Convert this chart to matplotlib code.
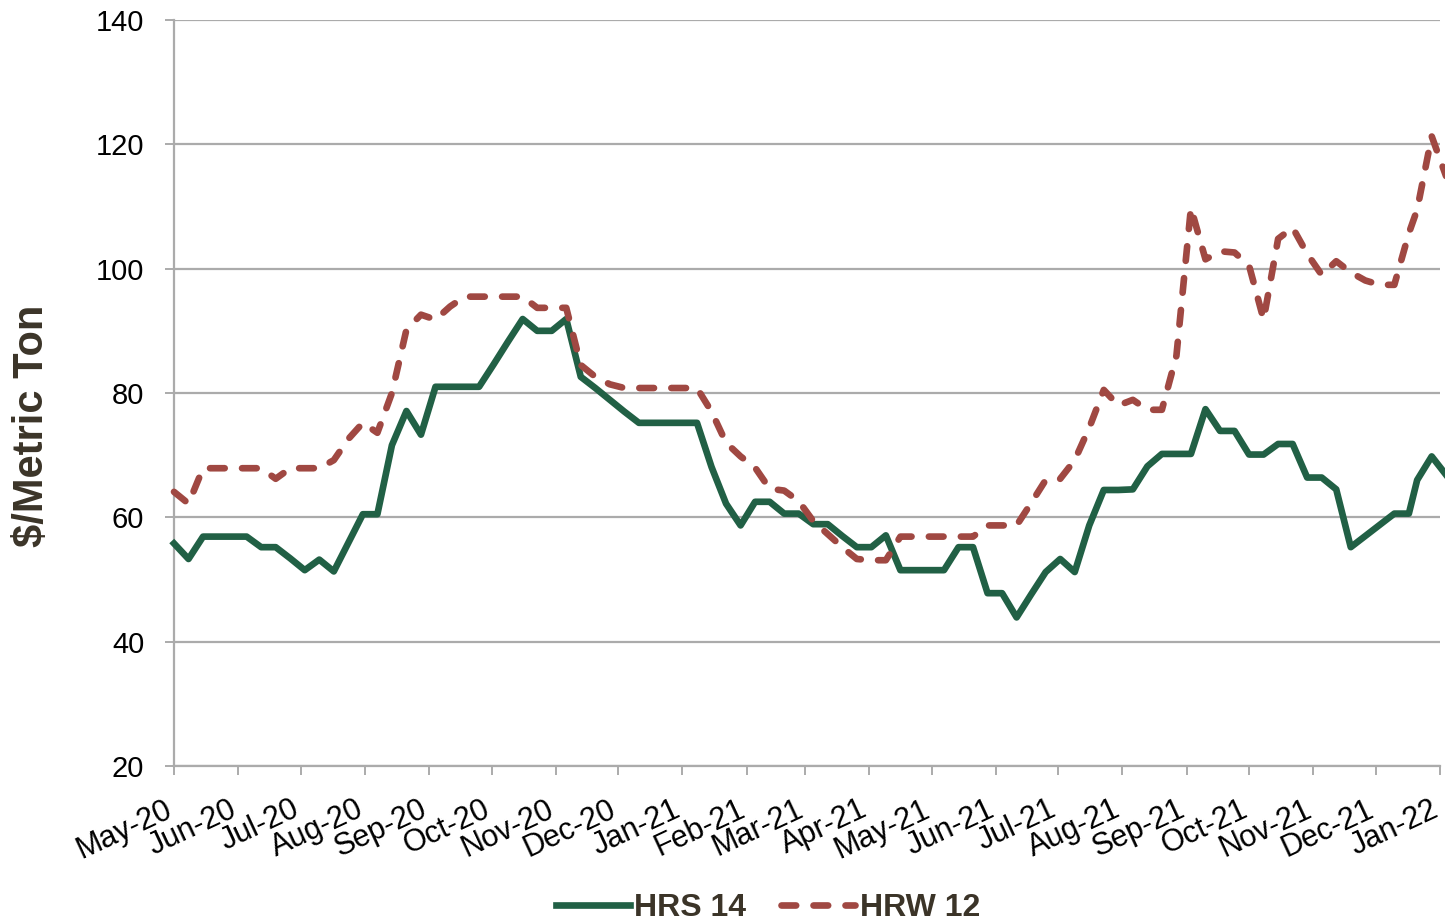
import pandas as pd
import matplotlib
matplotlib.use("Agg")
import matplotlib.pyplot as plt
import matplotlib.dates as mdates

# Weekly price spreads, $/metric ton
dates = pd.date_range("2020-05-01", periods=86, freq="7D").append(
    pd.to_datetime(["2021-12-21", "2021-12-28", "2022-01-04"]))

hrs14 = [55.8, 53.3, 56.9, 56.9, 56.9, 56.9, 55.2, 55.2, 53.4, 51.5,
         53.2, 51.3, 55.9, 60.5, 60.5, 71.6, 77.1, 73.3, 81.0, 81.0,
         81.0, 81.0, 84.6, 88.3, 91.9, 90.0, 90.0, 91.9, 82.6, 80.8,
         78.9, 77.0, 75.2, 75.2, 75.2, 75.2, 75.2, 68.1, 62.2, 58.7,
         62.5, 62.5, 60.6, 60.6, 58.9, 58.9, 57.0, 55.2, 55.2, 57.1,
         51.5, 51.5, 51.5, 51.5, 55.2, 55.2, 47.8, 47.8, 43.9, 47.6,
         51.2, 53.3, 51.2, 58.7, 64.4, 64.4, 64.5, 68.2, 70.2, 70.2,
         70.2, 77.4, 73.9, 73.9, 70.1, 70.1, 71.8, 71.8, 66.4, 66.4,
         64.5, 55.2, 57.0, 58.8, 60.6, 60.6, 66.0, 69.8, 66.8]

hrw12 = [64.1, 62.2, 67.9, 67.9, 67.9, 67.9, 67.9, 66.2, 67.9, 67.9,
         67.9, 69.2, 72.6, 75.2, 73.6, 80.0, 90.2, 92.6, 91.8, 93.9,
         95.5, 95.5, 95.5, 95.5, 95.5, 93.7, 93.7, 93.7, 84.5, 82.6,
         81.4, 80.8, 80.8, 80.8, 80.8, 80.8, 80.8, 77.0, 72.0, 69.8,
         68.0, 64.6, 64.3, 62.6, 59.4, 57.3, 55.2, 53.3, 53.1, 53.1,
         56.9, 56.9, 56.9, 56.9, 56.9, 56.9, 58.7, 58.7, 58.7, 62.3,
         66.0, 66.2, 69.2, 74.4, 80.5, 78.0, 78.9, 77.3, 77.3, 86.0,
         109.8, 101.5, 102.8, 102.6, 100.5, 91.8, 104.8, 106.6, 102.4, 99.0,
         101.2, 99.4, 98.1, 97.4, 97.4, 105.7, 109.5, 121.3, 114.8]

green = "#216045"
red = "#A04842"
grey = "#ABABAB"
text_dark = "#3B3428"

fig = plt.figure(figsize=(14.45, 9.23), dpi=100)
ax = fig.add_axes([174 / 1445, 1 - 766 / 923, (1440 - 174) / 1445, (766 - 20) / 923])

ax.plot(dates, hrs14, color=green, lw=4.8, clip_on=False, label="HRS 14", zorder=3)
ax.plot(dates, hrw12, color=red, lw=4.8, dashes=(2.2, 2.6), dash_capstyle="round",
        clip_on=False, label="HRW 12", zorder=3)

ax.set_ylim(20, 140)
ax.set_yticks(range(20, 141, 20))
ax.set_xlim(pd.Timestamp("2020-05-01"), pd.Timestamp("2022-01-01"))
ax.xaxis.set_major_locator(mdates.MonthLocator())
ax.xaxis.set_major_formatter(mdates.DateFormatter("%b-%y"))

ax.grid(axis="y", color=grey, lw=1.6)
ax.set_axisbelow(True)
for side in ["top", "right"]:
    ax.spines[side].set_visible(False)
for side in ["left", "bottom"]:
    ax.spines[side].set_color(grey)
    ax.spines[side].set_linewidth(1.6)

ax.tick_params(axis="both", direction="out", length=6.5, width=1.4, color=grey)
ax.tick_params(axis="y", pad=15, labelsize=21)
ax.tick_params(axis="x", pad=29, labelsize=22, labelrotation=25)
plt.setp(ax.get_yticklabels(), family=["Liberation Sans", "DejaVu Sans"])
plt.setp(ax.get_xticklabels(), family=["Liberation Sans", "DejaVu Sans"],
         ha="right", va="baseline", rotation_mode="anchor")

fig.text(32 / 1445, 1 - 426 / 923, "\\$/Metric Ton", rotation=90, ha="center", va="center",
         fontsize=30, fontweight="bold", family=["Liberation Sans", "DejaVu Sans"], color=text_dark)

leg = fig.legend(loc="center", bbox_to_anchor=(768 / 1445, 1 - 908 / 923), ncol=2, frameon=False,
                 prop={"family": "Liberation Sans", "weight": "bold", "size": 23},
                 handlelength=2.3, handletextpad=0.15, columnspacing=1.1)
for t in leg.get_texts():
    t.set_color(text_dark)

fig.savefig("out.png", dpi=100)
